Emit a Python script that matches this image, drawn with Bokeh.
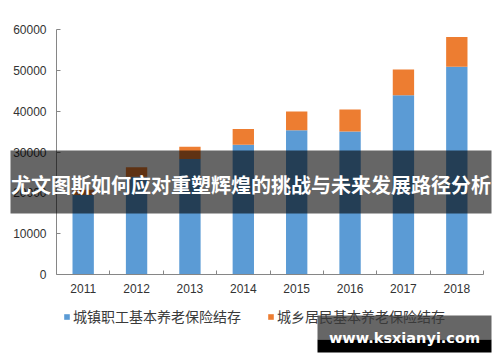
from bokeh.plotting import figure
from bokeh.models import (Range1d, FixedTicker, Legend, LegendItem, BoxAnnotation,
                          Label, NumeralTickFormatter, ColumnDataSource)
from bokeh.embed import file_html
from bokeh.resources import INLINE

# ---- data (亿元) ----
years = [2011, 2012, 2013, 2014, 2015, 2016, 2017, 2018]
urban_employee = [19497, 23941, 28269, 31800, 35345, 35000, 43885, 50901]
rural_resident = [1231, 2302, 3006, 3845, 4592, 5385, 6318, 7250]
series_names = ["城镇职工基本养老保险结存", "城乡居民基本养老保险结存"]
series_colors = ["#5b9bd5", "#ed7d31"]
y_ticks = [0, 10000, 20000, 30000, 40000, 50000, 60000]
banner_text = "尤文图斯如何应对重塑辉煌的挑战与未来发展路径分析"
watermark_text = "www.ksxianyi.com"

# ---- layout (canvas pixels) ----
W, H = 500, 362
plot_left, plot_right, plot_top, plot_bottom = 56, 483, 29, 274

x_lo, x_hi = years[0] - 0.5, years[-1] + 0.5
y_lo, y_hi = y_ticks[0], y_ticks[-1]
xs = (x_hi - x_lo) / (plot_right - plot_left)
ys = (y_hi - y_lo) / (plot_bottom - plot_top)

src = ColumnDataSource(dict(year=years, urban=urban_employee, rural=rural_resident))

p = figure(width=W, height=H, title=None,
           x_range=Range1d(x_lo - plot_left * xs, x_hi + (W - plot_right) * xs),
           y_range=Range1d(y_lo - (H - plot_bottom) * ys, y_hi + plot_top * ys),
           output_backend="svg", toolbar_location=None,
           min_border_left=0, min_border_right=0, min_border_top=0, min_border_bottom=0)
p.outline_line_color = None
p.xgrid.visible = False
p.ygrid.visible = False
p.background_fill_color = "white"
p.border_fill_color = "white"

renderers = p.vbar_stack(["urban", "rural"], x="year", width=0.4, source=src,
                         fill_color=series_colors, line_color=None)

axis_color = "#868686"
label_color = "#333333"

xa = p.xaxis[0]
xa.fixed_location = y_lo
xa.bounds = (x_lo, x_hi)
xa.ticker = FixedTicker(ticks=years, minor_ticks=[y + 0.5 for y in years])
xa.major_tick_in = 0
xa.major_tick_out = 0
xa.minor_tick_in = 4
xa.minor_tick_out = 0
xa.minor_tick_line_color = axis_color
xa.axis_line_color = axis_color
xa.major_label_text_font = "Liberation Sans"
xa.major_label_text_font_size = "12px"
xa.major_label_text_color = label_color
xa.major_label_standoff = 9

ya = p.yaxis[0]
ya.fixed_location = x_lo
ya.bounds = (y_lo, y_hi)
ya.ticker = FixedTicker(ticks=y_ticks)
ya.formatter = NumeralTickFormatter(format="0")
ya.major_tick_in = 4
ya.major_tick_out = 0
ya.minor_tick_line_color = None
ya.major_tick_line_color = axis_color
ya.axis_line_color = axis_color
ya.major_label_text_font = "Liberation Sans"
ya.major_label_text_font_size = "12px"
ya.major_label_text_color = label_color
ya.major_label_standoff = 10

legend = Legend(items=[LegendItem(label=series_names[i], renderers=[renderers[i]]) for i in range(2)],
                orientation="horizontal", location=(63, 36), padding=0, margin=0, spacing=26,
                glyph_width=7, glyph_height=7, label_standoff=3, label_height=7,
                label_text_font_size="14px", label_text_font="Noto Sans CJK SC",
                label_text_color="#3a3a3a", border_line_color=None, background_fill_alpha=0)
p.add_layout(legend)

def box(l, r, t, b, alpha):
    return BoxAnnotation(left=l, right=r, top=t, bottom=b,
                         left_units="canvas", right_units="canvas",
                         top_units="canvas", bottom_units="canvas",
                         fill_color="black", fill_alpha=alpha, line_color=None, level="overlay")

# banner overlay
p.add_layout(box(10, 491, 150, 213, 0.6))
p.add_layout(Label(x=250.5, y=184, x_units="canvas", y_units="canvas", text=banner_text,
                   text_align="center", text_baseline="middle", text_color="white",
                   text_font="Noto Sans CJK SC", text_font_style="bold", text_font_size="20px",
                   level="overlay"))

# watermark
p.add_layout(box(317, 491, 315, 339, 0.6))
p.add_layout(box(317, 491, 339, 352, 1.0))
p.add_layout(Label(x=404, y=337, x_units="canvas", y_units="canvas", text=watermark_text,
                   text_align="center", text_baseline="middle", text_color="white",
                   text_font="DejaVu Sans", text_font_style="bold", text_font_size="14.5px",
                   level="overlay"))

open("out.html", "w").write(file_html(p, INLINE))
